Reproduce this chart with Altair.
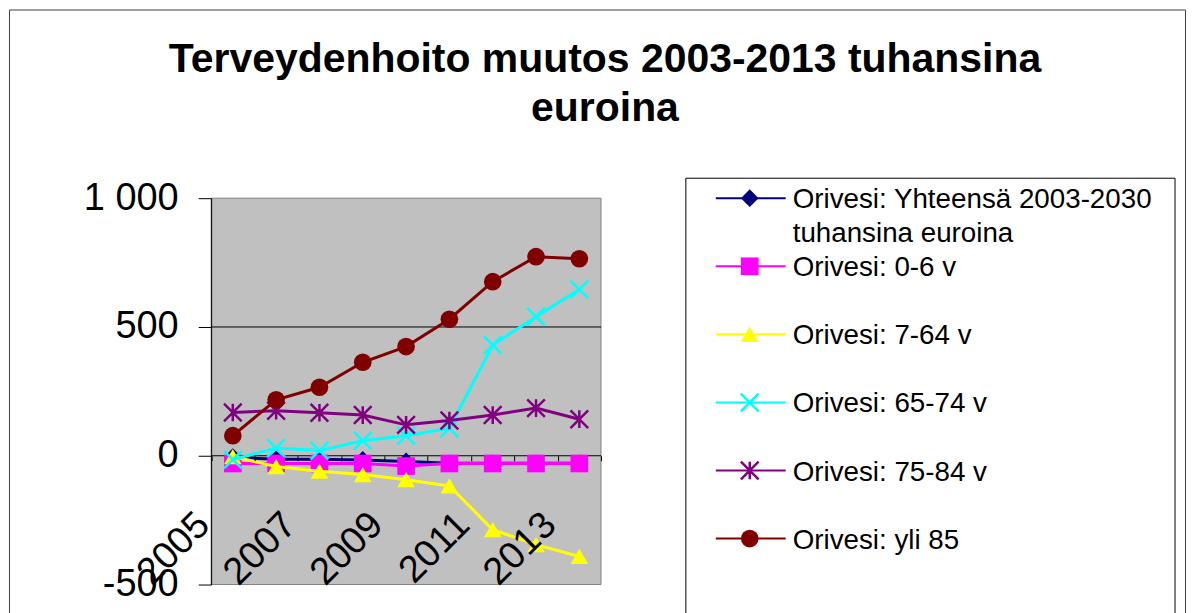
import altair as alt
import pandas as pd

FONT = "Liberation Sans"

# ---------------- data ----------------
years = [2005, 2006, 2007, 2008, 2009, 2010, 2011, 2012, 2013]
x_ticks = [2004.5, 2005.5, 2006.5, 2007.5, 2008.5, 2009.5, 2010.5, 2011.5, 2012.5, 2013.5]
y_ticks = [-500, 0, 500, 1000]

series_names = [
    "Orivesi: Yhteensä 2003-2030 tuhansina euroina",
    "Orivesi: 0-6 v",
    "Orivesi: 7-64 v",
    "Orivesi: 65-74 v",
    "Orivesi: 75-84 v",
    "Orivesi: yli 85",
]
legend_labels = [
    "Orivesi: Yhteensä 2003-2030\ntuhansina euroina",
    "Orivesi: 0-6 v",
    "Orivesi: 7-64 v",
    "Orivesi: 65-74 v",
    "Orivesi: 75-84 v",
    "Orivesi: yli 85",
]
yhteensa = [-5, -14, -14, -16, -22, -29, -29, -29, -29]
v0_6 = [-30, -30, -30, -30, -40, -30, -30, -30, -30]
v7_64 = [-3, -42, -60, -73, -93, -117, -287, -345, -391]
v65_74 = [-15, 30, 20, 58, 78, 107, 430, 540, 646]
v75_84 = [168, 175, 167, 158, 120, 137, 158, 185, 142]
yli85 = [78, 217, 266, 363, 424, 530, 676, 773, 765]

series_values = [yhteensa, v0_6, v7_64, v65_74, v75_84, yli85]

# styles
colors = ["#000080", "#FF00FF", "#FFFF00", "#00FFFF", "#800080", "#800000"]
shapes = [
    "diamond",
    "square",
    "triangle-up",
    "M-1,-1L1,1M-1,1L1,-1",
    "M-1,-1L1,1M-1,1L1,-1M0,-1L0,1",
    "circle",
]
filled = [True, True, True, False, False, True]

rows = []
for name, vals in zip(series_names, series_values):
    for yr, v in zip(years, vals):
        rows.append({"series": name, "year": yr, "value": v})
df = pd.DataFrame(rows)

frame_df = pd.DataFrame({"x0": [x_ticks[0]], "x1": [x_ticks[-1]],
                         "y0": [y_ticks[0]], "y1": [y_ticks[-1]]})
grid_df = pd.DataFrame({"x0": [x_ticks[0]] * 2, "x1": [x_ticks[-1]] * 2, "y0": [0, 500]})

leg_df = pd.DataFrame({"series": series_names, "label": legend_labels,
                       "idx": list(range(len(series_names)))})

# ---------------- encodings ----------------
x_scale = alt.Scale(domain=[x_ticks[0], x_ticks[-1]], range=[202.5, 593], nice=False, zero=False)
y_scale = alt.Scale(domain=[y_ticks[0], y_ticks[-1]], range=[576, 189], nice=False, zero=False)

x_axis = alt.Axis(
    values=x_ticks, orient="bottom", offset=-163, domain=False, grid=False,
    ticks=True, tickSize=5, tickColor="black", tickWidth=1,
    labelExpr="(datum.value + 0.5) % 2 == 1 ? toString(datum.value + 0.5) : ''",
    labelAngle=-45, labelAlign="right", labelBaseline="alphabetic", labelPadding=66,
    labelFontSize=38, labelFont=FONT, labelColor="black",
    labelOverlap=False, labelBound=False, labelFlush=False, title=None, zindex=1,
)
y_axis = alt.Axis(
    values=y_ticks, orient="left", offset=-202.5, domain=True, domainColor="black",
    domainWidth=1, grid=False, ticks=True, tickSize=13, tickColor="black", tickWidth=1,
    labelPadding=20, labelFontSize=38, labelFont=FONT, labelColor="black",
    labelBaseline="middle",
    labelExpr="datum.value == 1000 ? '1 000' : toString(datum.value)",
    title=None, zindex=1,
)


def X(field):
    return alt.X(field, type="quantitative", scale=x_scale, axis=x_axis)


def Y(field):
    return alt.Y(field, type="quantitative", scale=y_scale, axis=y_axis)


color_enc = alt.Color("series:N", scale=alt.Scale(domain=series_names, range=colors), legend=None)
shape_enc = alt.Shape("series:N", scale=alt.Scale(domain=series_names, range=shapes), legend=None)

# ---------------- plot area ----------------
plot_bg = alt.Chart(frame_df).mark_rect(fill="#C0C0C0", stroke="#808080", strokeWidth=1).encode(
    x=X("x0"), x2="x1", y=Y("y0"), y2="y1"
)
grid = alt.Chart(grid_df).mark_rule(color="black", strokeWidth=1).encode(
    x=X("x0"), x2="x1", y=Y("y0")
)

layers = [plot_bg, grid]
for i, name in enumerate(series_names):
    base = alt.Chart(df).transform_filter(alt.datum.series == name)
    layers.append(base.mark_line(strokeWidth=3).encode(x=X("year"), y=Y("value"), color=color_enc))
    layers.append(
        base.mark_point(filled=filled[i], size=313, strokeWidth=2.5, opacity=1).encode(
            x=X("year"), y=Y("value"), color=color_enc, shape=shape_enc
        )
    )
plot = alt.layer(*layers)

# ---------------- legend ----------------
LY = alt.Y("idx:Q", scale=alt.Scale(domain=[0, 5], range=[189, 530], nice=False, zero=False), axis=None)
leg_base = alt.Chart(leg_df)
leg_box = leg_base.transform_filter(alt.datum.idx == 0).mark_rect(
    fill="white", stroke="black", strokeWidth=1
).encode(x=alt.value(678), x2=alt.value(1168), y=alt.value(169), y2=alt.value(700))
leg_lines = leg_base.mark_rule(strokeWidth=2).encode(
    x=alt.value(708), x2=alt.value(778), y=LY, color=color_enc
)
filled_names = [n for n, f in zip(series_names, filled) if f]
leg_pts_f = leg_base.transform_filter(alt.FieldOneOfPredicate(field="series", oneOf=filled_names)).mark_point(
    filled=True, size=313, opacity=1
).encode(x=alt.value(742), y=LY, color=color_enc, shape=shape_enc)
leg_pts_s = leg_base.transform_filter(
    {"not": alt.FieldOneOfPredicate(field="series", oneOf=filled_names)}
).mark_point(filled=False, size=313, strokeWidth=2.5, opacity=1).encode(
    x=alt.value(742), y=LY, color=color_enc, shape=shape_enc
)
leg_text = leg_base.mark_text(
    align="left", baseline="alphabetic", dy=10, fontSize=27.8, font=FONT,
    lineBreak="\n", lineHeight=34, color="black"
).encode(x=alt.value(785), y=LY, text="label:N")
legend = alt.layer(leg_box, leg_lines, leg_pts_f, leg_pts_s, leg_text)

chart = (
    alt.layer(plot, legend)
    .resolve_scale(y="independent")
    .properties(
        width=1178,
        height=610,
        title=alt.TitleParams(
            text=["Terveydenhoito muutos 2003-2013 tuhansina", "euroina"],
            fontSize=41, font=FONT, fontWeight="bold", color="black",
            anchor="middle", dx=8, offset=-162, baseline="bottom", lineHeight=49,
        ),
        padding={"left": 1, "top": 1, "right": 1, "bottom": 0},
        autosize=alt.AutoSizeParams(type="none"),
        background="white",
    )
    .configure_view(stroke="#404040", strokeWidth=1, fill="white")
)

chart.save("out.html", embed_options={"renderer": "svg", "actions": False})
